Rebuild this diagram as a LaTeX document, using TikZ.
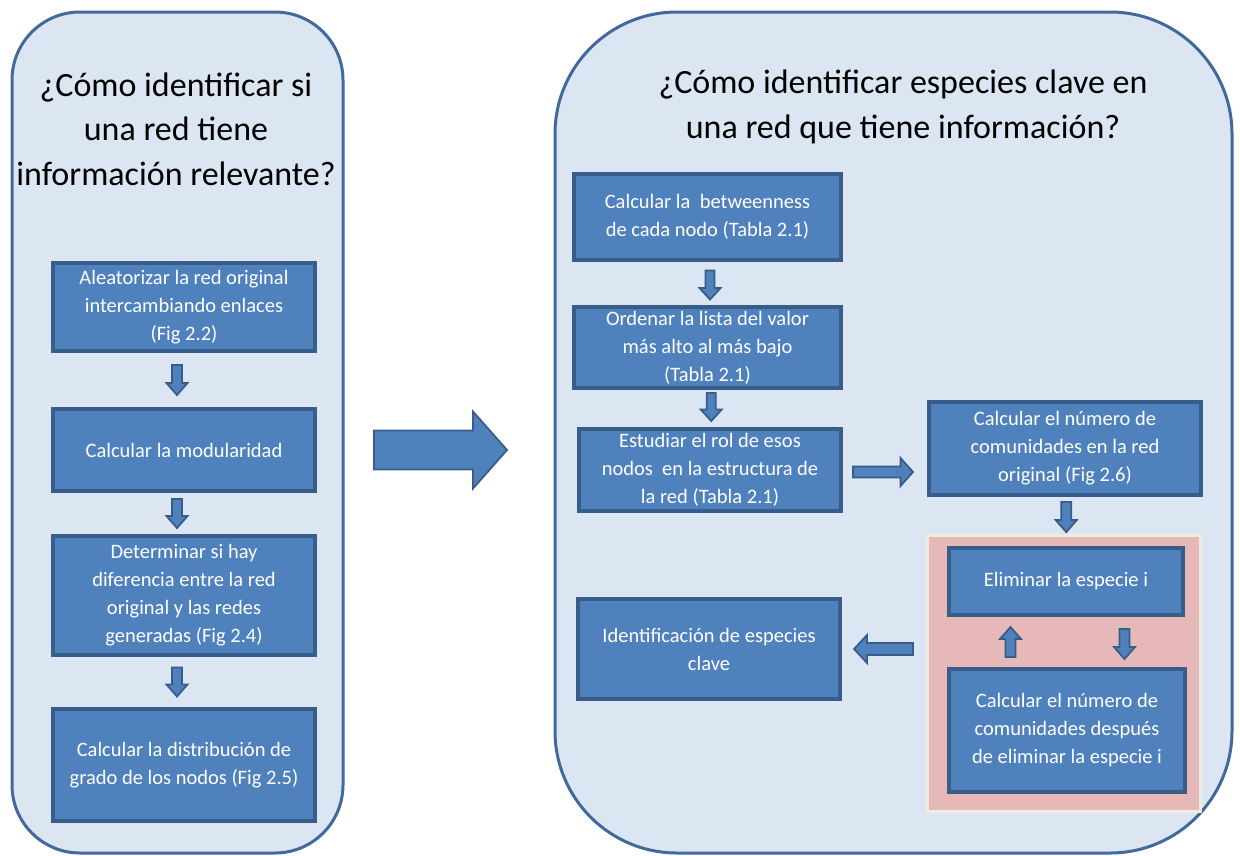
\documentclass[tikz,border=0pt]{standalone}
\usepackage{fontspec}
\setmainfont{Carlito}
\usetikzlibrary{calc}

\definecolor{panelfill}{HTML}{DCE6F2}
\definecolor{paneldraw}{HTML}{41699B}
\definecolor{boxfill}{HTML}{4F81BD}
\definecolor{boxdraw}{HTML}{385D8A}
\definecolor{pinkfill}{HTML}{E6B9B8}
\definecolor{pinkdraw}{HTML}{EEECE1}

\begin{document}
\begin{tikzpicture}[x=1pt,y=-1pt,
  panel/.style={draw=paneldraw, line width=3pt, fill=panelfill, inner sep=0pt},
  loopbox/.style={draw=pinkdraw, line width=3pt, fill=pinkfill, inner sep=0pt},
  stepbox/.style={draw=boxdraw, fill=boxfill, line width=3.3pt, text=white,
    align=center, inner sep=0pt, font=\fontsize{20.5}{28}\selectfont},
  title/.style={align=center, font=\fontsize{34}{44.5}\selectfont},
  arrowshape/.style={draw=boxdraw, fill=boxfill, line width=1.8pt, line join=miter},
  % block arrow centred on the origin, pointing along +x:
  % total length / half shaft / half head / head length
  pics/barrow/.style args={#1/#2/#3/#4}{code={
    \path[arrowshape] ({-#1/2},-#2) -- ({#1/2-#4},-#2) -- ({#1/2-#4},-#3)
      -- ({#1/2},0) -- ({#1/2-#4},#3) -- ({#1/2-#4},#2) -- ({-#1/2},#2) -- cycle;
  }},
]
\useasboundingbox (0,0) rectangle (1240,855);

% background panels
\node[panel, rounded corners=68pt, minimum width=331pt, minimum height=841pt]
  (lpanel) at (177.5,432.5) {};
\node[panel, rounded corners=122pt, minimum width=677pt, minimum height=841pt]
  (rpanel) at (893.5,432.5) {};

% panel titles
\node[title] (ltitle) at (176,129) {¿Cómo identificar si\\una red tiene\\información relevante?};
\node[title] (rtitle) at (903,107) {¿Cómo identificar especies clave en\\una red que tiene información?};

% left column
\node[stepbox, minimum width=262pt, minimum height=88pt] (l1) at (184,307)
  {Aleatorizar la red original\\intercambiando enlaces\\(Fig 2.2)};
\node[stepbox, minimum width=262pt, minimum height=82pt] (l2) at (184,450)
  {Calcular la modularidad};
\node[stepbox, minimum width=262pt, minimum height=119pt] (l3) at (184,595.5)
  {Determinar si hay\\diferencia entre la red\\original y las redes\\generadas (Fig 2.4)};
\node[stepbox, minimum width=262pt, minimum height=112pt] (l4) at (184,765)
  {Calcular la distribución de\\grado de los nodos (Fig 2.5)};

\pic[rotate=-90] at ($(l1.south)!.5!(l2.north)+(-7,0)$) {barrow=30/5/10.5/12};
\pic[rotate=-90] at ($(l2.south)!.5!(l3.north)+(-7,0)$) {barrow=29/5/10.5/12};
\pic[rotate=-90] at ($(l3.south)!.5!(l4.north)+(-7,0)$) {barrow=29/5/10.5/12};

% link between the two panels
\coordinate (bigmid) at (440.5,450);
\pic at (bigmid) {barrow=133/19.5/38.5/34};

% right panel: feedback loop background
\node[loopbox, minimum width=273pt, minimum height=276pt] (loop) at (1063.5,673) {};

% right panel steps
\node[stepbox, minimum width=267pt, minimum height=86pt] (r1) at (707.5,217)
  {Calcular la \ betweenness\\de cada nodo (Tabla 2.1)};
\node[stepbox, minimum width=267pt, minimum height=81pt] (r2) at (707.5,347.5)
  {Ordenar la lista del valor\\más alto al más bajo\\(Tabla 2.1)};
\node[stepbox, minimum width=262pt, minimum height=82pt] (r3) at (710,470)
  {Estudiar el rol de esos\\nodos \ en la estructura de\\la red (Tabla 2.1)};
\node[stepbox, minimum width=272pt, minimum height=93pt] (r4) at (1065,448.5)
  {Calcular el número de\\comunidades en la red\\original (Fig 2.6)};
\node[stepbox, minimum width=234pt, minimum height=67pt] (r5) at (1066,581.5)
  {Eliminar la especie i};
\node[stepbox, minimum width=236pt, minimum height=123pt] (r6) at (1067,730.5)
  {Calcular el número de\\comunidades después\\de eliminar la especie i};
\node[stepbox, minimum width=262pt, minimum height=100pt] (r7) at (709,649)
  {Identificación de especies\\clave};

% right panel connectors
\pic[rotate=-90] at ($(r1.south)!.5!(r2.north)+(2.5,1.5)$) {barrow=29/4.5/10.5/11.5};
\pic[rotate=-90] at ($(r2.south)!.5!(r3.north)+(2.5,-1.5)$) {barrow=28/4.5/10.5/11.5};
\pic at ($(r3.east)!.5!(r3.east -| r4.west)+(-2,2)$) {barrow=60/5.5/14/12.5};
\pic[rotate=-90] at ($(r4.south)!.5!(loop.north)+(2,2)$) {barrow=30/5/10.5/12};
\pic[rotate=90] at ($(r6.north)!.5!(r5.south)+(-56,0)$) {barrow=30/5/10.5/12};
\pic[rotate=-90] at ($(r5.south)!.5!(r6.north)+(58,2)$) {barrow=30/5/10.5/12};
\pic[rotate=180] at ($(r7.east)!.5!(r7.east -| loop.west)$) {barrow=59/6/14/13};

\end{tikzpicture}
\end{document}
